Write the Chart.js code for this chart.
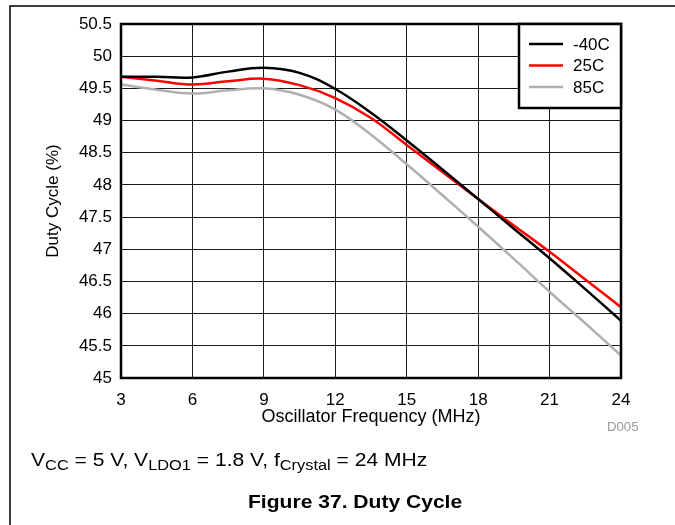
<!DOCTYPE html>
<html>
<head>
<meta charset="utf-8">
<script src="https://cdn.jsdelivr.net/npm/chart.js@4.4.1/dist/chart.umd.min.js"></script>
<style>
  body { margin: 0; background: #fff; font-family: "Liberation Sans", Arial, sans-serif; }
  #wrap { position: relative; width: 675px; height: 525px; overflow: hidden; }
  #chart { position: absolute; left: 0; top: 0; }
  .note { position: absolute; color: #000; white-space: nowrap; transform-origin: 0 0; }
  .note sub { font-size: 14px; vertical-align: -4px; line-height: 0; }
  #cond { left: 31px; top: 450px; font-size: 18px; transform: scaleX(1.17); }
  #fig { left: 248px; top: 492px; font-size: 18px; font-weight: bold; transform: scaleX(1.17); }
  #code { left: 607px; top: 420px; font-size: 12px; color: #999; transform: scaleX(1.1); }
</style>
</head>
<body>
<div id="wrap">
  <canvas id="chart" width="675" height="525"></canvas>
  <div class="note" id="code">D005</div>
  <div class="note" id="cond">V<sub>CC</sub> = 5 V, V<sub>LDO1</sub> = 1.8 V, f<sub>Crystal</sub> = 24 MHz</div>
  <div class="note" id="fig">Figure 37. Duty Cycle</div>
</div>
<script>
// oscillator frequency in MHz
const freq = [3, 4.5, 6, 7.5, 9, 10.5, 12, 13.5, 15, 16.5, 18, 19.5, 21, 22.5, 24];
// duty cycle in %
const dutyMinus40 = [49.68, 49.68, 49.67, 49.76, 49.82, 49.74, 49.49, 49.12, 48.69, 48.24, 47.78, 47.32, 46.86, 46.38, 45.89];
const duty25 = [49.68, 49.62, 49.56, 49.61, 49.65, 49.55, 49.35, 49.04, 48.62, 48.2, 47.78, 47.37, 46.96, 46.53, 46.1];
const duty85 = [49.56, 49.48, 49.42, 49.47, 49.5, 49.4, 49.17, 48.78, 48.32, 47.84, 47.35, 46.85, 46.34, 45.85, 45.35];
const seriesNames = ['-40C', '25C', '85C'];
const xTicks = [3, 6, 9, 12, 15, 18, 21, 24];
const yTicks = [45, 45.5, 46, 46.5, 47, 47.5, 48, 48.5, 49, 49.5, 50, 50.5];

const FONT = '"Liberation Sans", Arial, sans-serif';

function toPoints(ys) {
    return freq.map((f, i) => ({ x: f, y: ys[i] }));
}

// outer page frame + box round the plot
const framePlugin = {
    id: 'frame',
    beforeDraw(chart) {
        const ctx = chart.ctx;
        ctx.save();
        ctx.fillStyle = '#fff';
        ctx.fillRect(0, 0, chart.width, chart.height);
        ctx.strokeStyle = '#000';
        ctx.lineWidth = 1.5;
        ctx.beginPath();
        ctx.moveTo(10, chart.height);
        ctx.lineTo(10, 6);
        ctx.lineTo(chart.width, 6);
        ctx.stroke();
        ctx.restore();
    },
    afterDatasetsDraw(chart) {
        const { ctx, chartArea } = chart;
        ctx.save();
        ctx.strokeStyle = '#000';
        ctx.lineWidth = 2.5;
        ctx.strokeRect(chartArea.left, chartArea.top, chartArea.right - chartArea.left, chartArea.bottom - chartArea.top);
        ctx.restore();
    }
};

// legend box in the top right corner of the plot
const boxLegend = {
    id: 'boxLegend',
    afterDraw(chart) {
        const { ctx, chartArea } = chart;
        const w = 102, h = 84;
        const x0 = chartArea.right - w, y0 = chartArea.top;
        ctx.save();
        ctx.fillStyle = '#fff';
        ctx.fillRect(x0, y0, w, h);
        ctx.strokeStyle = '#000';
        ctx.lineWidth = 2.5;
        ctx.strokeRect(x0, y0, w, h);
        ctx.font = '17px ' + FONT;
        ctx.textBaseline = 'middle';
        chart.data.datasets.forEach((ds, i) => {
            const y = y0 + 20 + i * 21.5;
            ctx.strokeStyle = ds.borderColor;
            ctx.lineWidth = 2.5;
            ctx.beginPath();
            ctx.moveTo(x0 + 10, y);
            ctx.lineTo(x0 + 44, y);
            ctx.stroke();
            ctx.fillStyle = '#000';
            ctx.fillText(ds.label, x0 + 54, y + 1);
        });
        ctx.restore();
    }
};

const ctx = document.getElementById('chart').getContext('2d');
new Chart(ctx, {
    type: 'line',
    data: {
        datasets: [
            { label: seriesNames[0], data: toPoints(dutyMinus40), borderColor: '#000000' },
            { label: seriesNames[1], data: toPoints(duty25), borderColor: '#ff0000' },
            { label: seriesNames[2], data: toPoints(duty85), borderColor: '#b0b0b0' }
        ]
    },
    options: {
        responsive: false,
        animation: false,
        layout: { padding: { left: 40, top: 24, right: 54, bottom: 97 } },
        elements: {
            line: { borderWidth: 2.5, tension: 0.4, fill: false },
            point: { radius: 0 }
        },
        plugins: {
            legend: { display: false },
            tooltip: { enabled: false }
        },
        scales: {
            x: {
                type: 'linear',
                min: 3,
                max: 24,
                afterBuildTicks: (scale) => { scale.ticks = xTicks.map(v => ({ value: v })); },
                afterFit: (scale) => { scale.height = 50; },
                grid: { color: '#1a1a1a', lineWidth: 1, drawTicks: false },
                border: { display: false },
                ticks: { color: '#000', padding: 12, maxRotation: 0, font: { family: FONT, size: 17 }, callback: v => String(v) },
                title: { display: true, text: 'Oscillator Frequency (MHz)', color: '#000', padding: 0, font: { family: FONT, size: 18 } }
            },
            y: {
                type: 'linear',
                min: 45,
                max: 50.5,
                afterBuildTicks: (scale) => { scale.ticks = yTicks.map(v => ({ value: v })); },
                afterFit: (scale) => { scale.width = 81; },
                grid: { color: '#1a1a1a', lineWidth: 1, drawTicks: false },
                border: { display: false },
                ticks: { color: '#000', padding: 9, font: { family: FONT, size: 17 }, callback: v => String(v) },
                title: { display: true, text: 'Duty Cycle (%)', color: '#000', padding: { top: 3 }, font: { family: FONT, size: 17 } }
            }
        }
    },
    plugins: [framePlugin, boxLegend]
});
</script>
</body>
</html>
